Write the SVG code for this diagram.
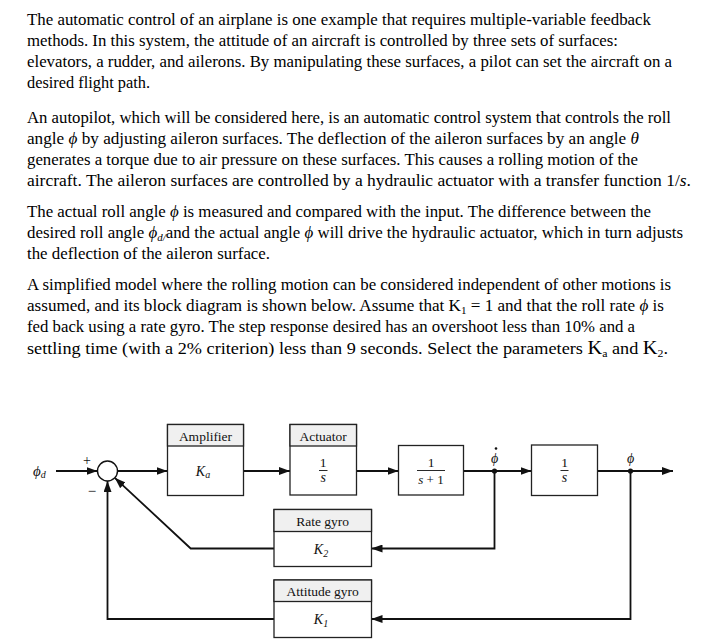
<svg xmlns="http://www.w3.org/2000/svg" width="715" height="643" viewBox="0 0 715 643">
<style>
.p{font-family:"Liberation Serif","Times New Roman",serif;font-size:17px;fill:#000}
.i{font-style:italic}
.d{font-family:"Liberation Serif","Times New Roman",serif;fill:#111}
.hd{font-size:13.5px;text-anchor:middle}
.m{font-size:14px;text-anchor:middle;font-style:italic}
.blk{fill:#fff;stroke:#222;stroke-width:1.3}
.hdr{fill:#f0f0f0;stroke:#222;stroke-width:1.3}
.ln{fill:none;stroke:#111;stroke-width:1.8}
.ar{fill:none;stroke:#111;stroke-width:1.8;marker-end:url(#ah)}
.fb{stroke:#111;stroke-width:0.9}
</style>
<defs>
<marker id="ah" viewBox="0 0 11 8" refX="11" refY="4" markerWidth="11" markerHeight="8" markerUnits="userSpaceOnUse" orient="auto"><path d="M0,0 L11,4 L0,8 z" fill="#111"/></marker>
</defs>
<rect width="715" height="643" fill="#fff"/>
<g id="text">
<text class="p" x="27" y="25" textLength="624" lengthAdjust="spacingAndGlyphs">The automatic control of an airplane is one example that requires multiple-variable feedback</text>
<text class="p" x="27" y="46" textLength="591" lengthAdjust="spacingAndGlyphs">methods. In this system, the attitude of an aircraft is controlled by three sets of surfaces:</text>
<text class="p" x="27" y="67" textLength="645" lengthAdjust="spacingAndGlyphs">elevators, a rudder, and ailerons. By manipulating these surfaces, a pilot can set the aircraft on a</text>
<text class="p" x="27" y="88" textLength="123" lengthAdjust="spacingAndGlyphs">desired flight path.</text>
<text class="p" x="27" y="123" textLength="644" lengthAdjust="spacingAndGlyphs">An autopilot, which will be considered here, is an automatic control system that controls the roll</text>
<text class="p" x="27" y="144" textLength="612" lengthAdjust="spacingAndGlyphs">angle <tspan class="i">ϕ</tspan> by adjusting aileron surfaces. The deflection of the aileron surfaces by an angle <tspan class="i">θ</tspan></text>
<text class="p" x="27" y="165" textLength="611" lengthAdjust="spacingAndGlyphs">generates a torque due to air pressure on these surfaces. This causes a rolling motion of the</text>
<text class="p" x="27" y="186" textLength="664" lengthAdjust="spacingAndGlyphs">aircraft. The aileron surfaces are controlled by a hydraulic actuator with a transfer function 1/<tspan class="i">s</tspan>.</text>
<text class="p" x="27" y="217" textLength="624" lengthAdjust="spacingAndGlyphs">The actual roll angle <tspan class="i">ϕ</tspan> is measured and compared with the input. The difference between the</text>
<text class="p" x="27" y="238" textLength="656" lengthAdjust="spacingAndGlyphs">desired roll angle <tspan class="i">ϕ</tspan><tspan class="i" font-size="11" dy="3">d/</tspan><tspan dy="-3">and the actual angle </tspan><tspan class="i">ϕ</tspan> will drive the hydraulic actuator, which in turn adjusts</text>
<text class="p" x="27" y="259" textLength="243" lengthAdjust="spacingAndGlyphs">the deflection of the aileron surface.</text>
<text class="p" x="27" y="290" textLength="644" lengthAdjust="spacingAndGlyphs">A simplified model where the rolling motion can be considered independent of other motions is</text>
<text class="p" x="27" y="311" textLength="637" lengthAdjust="spacingAndGlyphs">assumed, and its block diagram is shown below.  Assume that K<tspan font-size="11" dy="3">1</tspan><tspan dy="-3"> = 1 and that the roll rate </tspan><tspan class="i">ϕ</tspan> is</text>
<text class="p" x="27" y="332" textLength="608" lengthAdjust="spacingAndGlyphs">fed back using a rate gyro. The step response desired has an overshoot less than 10% and a</text>
<text class="p" x="27" y="354" textLength="641" lengthAdjust="spacingAndGlyphs">settling time (with a 2% criterion) less than 9 seconds. Select the parameters <tspan font-size="19">K</tspan><tspan font-size="11" dy="3">a</tspan><tspan dy="-3"> and </tspan><tspan font-size="19">K</tspan><tspan font-size="11" dy="3">2</tspan><tspan dy="-3">.</tspan></text>
</g>
<g id="connectors">
<line class="ar" x1="56" y1="471" x2="97.5" y2="471"/>
<line class="ar" x1="117.5" y1="471" x2="167.5" y2="471"/>
<line class="ar" x1="243.5" y1="471" x2="290" y2="471"/>
<line class="ar" x1="356.5" y1="471" x2="398.5" y2="471"/>
<line class="ar" x1="463.5" y1="471" x2="531.5" y2="471"/>
<line class="ar" x1="597.5" y1="471" x2="673" y2="471"/>
<polyline class="ar" points="494.5,471 494.5,548.5 371.5,548.5"/>
<polyline class="ar" points="630.5,471 630.5,619 371.5,619"/>
<polyline class="ar" points="274,548.5 190.7,548.5 114.8,477.8"/>
<polyline class="ar" points="274,619 107.5,619 107.5,481"/>
<circle cx="494.5" cy="471" r="2.6" fill="#111"/>
<circle cx="630.5" cy="471" r="2.6" fill="#111"/>
</g>
<g id="sum">
<circle cx="107.5" cy="471" r="10" fill="#fff" stroke="#111" stroke-width="1.4"/>
<text class="d" x="87" y="465" font-size="14" text-anchor="middle">+</text>
<text class="d" x="92" y="496" font-size="15" text-anchor="middle">−</text>
</g>
<g id="input-label">
<text class="d i" x="33" y="476" font-size="15">ϕ<tspan font-size="10" dy="2">d</tspan></text>
</g>
<g id="amplifier">
<rect class="blk" x="167.5" y="424.5" width="76" height="71"/>
<rect class="hdr" x="167.5" y="424.5" width="76" height="21.5"/>
<text class="d hd" x="205.5" y="440.5">Amplifier</text>
<text class="d m" x="203" y="476">K<tspan font-size="10" dy="2">a</tspan></text>
</g>
<g id="actuator">
<rect class="blk" x="290" y="424.5" width="66.5" height="70.5"/>
<rect class="hdr" x="290" y="424.5" width="66.5" height="21.5"/>
<text class="d hd" x="323.2" y="440.5">Actuator</text>
<text class="d hd" x="323.2" y="467" font-size="12">1</text>
<line class="fb" x1="319" y1="470.5" x2="327.5" y2="470.5"/>
<text class="d m" x="323.2" y="482" font-size="12.5">s</text>
</g>
<g id="plant1">
<rect class="blk" x="398.5" y="445.5" width="65" height="49.5"/>
<text class="d hd" x="431" y="467" font-size="12">1</text>
<line class="fb" x1="417" y1="470.5" x2="445" y2="470.5"/>
<text class="d" x="431" y="484" font-size="13" text-anchor="middle"><tspan class="i">s</tspan> + 1</text>
</g>
<g id="rate-label">
<text class="d m" x="494.5" y="463" font-size="16">ϕ</text>
<circle cx="496" cy="448.5" r="1.3" fill="#111"/>
</g>
<g id="integrator">
<rect class="blk" x="531.5" y="445" width="66" height="50.5"/>
<text class="d hd" x="564.5" y="467" font-size="12">1</text>
<line class="fb" x1="560.5" y1="470.5" x2="568.5" y2="470.5"/>
<text class="d m" x="564.5" y="482" font-size="12.5">s</text>
</g>
<g id="output-label">
<text class="d m" x="630.5" y="463" font-size="16">ϕ</text>
</g>
<g id="rate-gyro">
<rect class="blk" x="274" y="509.5" width="97.5" height="57"/>
<rect class="hdr" x="274" y="509.5" width="97.5" height="22"/>
<text class="d hd" x="322.7" y="526">Rate gyro</text>
<text class="d m" x="321" y="553.5">K<tspan font-size="10" dy="3">2</tspan></text>
</g>
<g id="attitude-gyro">
<rect class="blk" x="274" y="580" width="97.5" height="57.5"/>
<rect class="hdr" x="274" y="580" width="97.5" height="21.5"/>
<text class="d hd" x="322.7" y="596">Attitude gyro</text>
<text class="d m" x="321" y="623.5">K<tspan font-size="10" dy="3">1</tspan></text>
</g>
</svg>
